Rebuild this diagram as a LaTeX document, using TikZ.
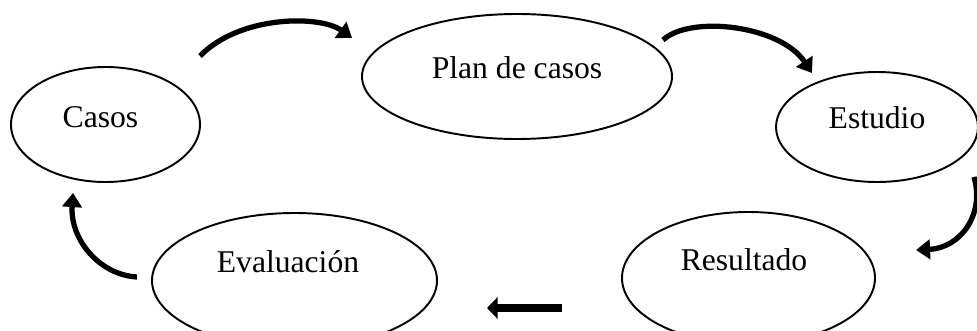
\documentclass[tikz,border=0pt]{standalone}
\usepackage{fontspec}
\setmainfont{Liberation Serif}
\usetikzlibrary{shapes.geometric,arrows.meta}
\begin{document}
\begin{tikzpicture}[line cap=round]

    % Styles
    \tikzstyle{stage}=[draw, ellipse, line width=1.1pt, inner sep=0pt]
    \tikzstyle{stagetext}=[font=\fontsize{18}{22}\selectfont, inner sep=0pt]
    \tikzstyle{flow}=[line width=3pt, line cap=butt, -{Triangle[length=8pt,width=11pt]}]

    \useasboundingbox (0,0) rectangle (19.54,6.6);

    % stages of the cycle
    \node[stage, minimum width=3.78cm, minimum height=2.30cm] (casos) at (2.11,4.11) {};
    \node[stagetext] (casostext) at ([shift={(-0.10,0.14)}]casos.center) {Casos};

    \node[stage, minimum width=6.20cm, minimum height=2.50cm] (plan) at (10.34,5.07) {};
    \node[stagetext] (plantext) at ([shift={(0,0.17)}]plan.center) {Plan de casos};

    \node[stage, minimum width=4.04cm, minimum height=2.20cm] (estudio) at (17.54,4.06) {};
    \node[stagetext] (estudiotext) at ([shift={(0,0.19)}]estudio.center) {Estudio};

    \node[stage, minimum width=5.06cm, minimum height=2.64cm] (resultado) at (14.97,1.04) {};
    \node[stagetext] (resultadotext) at ([shift={(-0.09,0.37)}]resultado.center) {Resultado};

    \node[stage, minimum width=5.70cm, minimum height=2.70cm] (evaluacion) at (5.89,0.99) {};
    \node[stagetext] (evaluaciontext) at ([shift={(-0.13,0.37)}]evaluacion.center) {Evaluación};

    % arrow ends
    \coordinate (casosout) at (4.00,5.48);
    \coordinate (planin) at (7.04,5.84);
    \coordinate (planout) at (13.26,5.80);
    \coordinate (estudioin) at (16.24,5.14);
    \coordinate (estudioout) at (19.48,3.06);
    \coordinate (resultadoin) at (18.32,1.60);
    \coordinate (resultadoout) at (11.24,0.44);
    \coordinate (evaluacionin) at (9.74,0.44);
    \coordinate (evaluacionout) at (2.74,1.06);
    \coordinate (casosin) at (1.46,2.74);

    % curved arrows
    \draw[flow] (casosout) .. controls (4.80,6.30) and (6.40,6.30) .. (planin);
    \draw[flow] (planout) .. controls (13.80,6.30) and (15.60,6.10) .. (estudioin);
    \draw[flow] (estudioout) .. controls (19.70,2.30) and (19.20,1.64) .. (resultadoin);
    \draw[flow] (evaluacionout) .. controls (2.00,1.10) and (1.40,1.80) .. (casosin);

    % straight arrow
    \draw[line width=4pt, line cap=butt, -{Triangle[length=6pt,width=12pt]}] (resultadoout) -- (evaluacionin);

\end{tikzpicture}
\end{document}
